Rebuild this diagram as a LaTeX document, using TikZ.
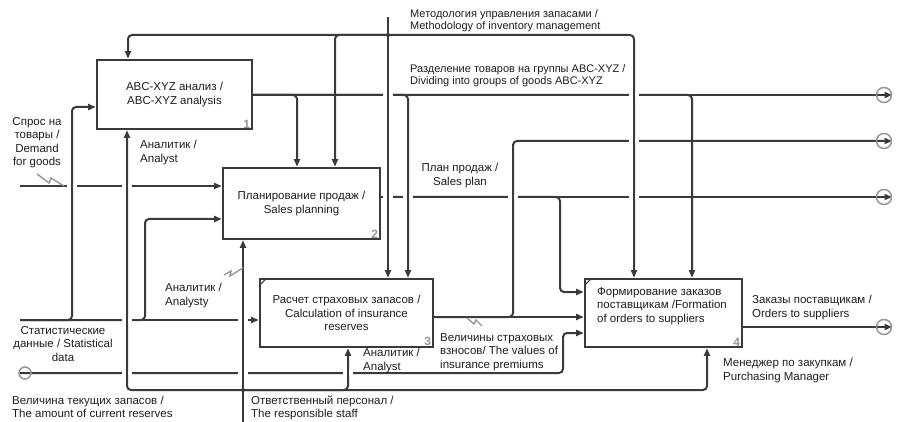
\documentclass[tikz,border=0pt]{standalone}
\usepackage{fontspec}
\setmainfont{Liberation Sans}
\usetikzlibrary{arrows.meta}

\definecolor{lc}{RGB}{58,58,58}
\definecolor{tc}{RGB}{30,30,30}
\definecolor{tun}{RGB}{150,150,150}

% white break in a horizontal line where a vertical one passes over it
\newcommand\gapat[2]{\fill[white] (#1-5,#2-1.8) rectangle (#1+5,#2+1.8);
  \draw[lc,line width=2pt] (#1,#2-3) -- (#1,#2+3);}

\begin{document}
\begin{tikzpicture}[x=1pt,y=-1pt,
    box/.style={draw=lc,line width=2.6pt,fill=white,inner sep=0pt,align=center,text=tc,
      font=\fontsize{11.5}{13.5}\selectfont},
    lbl/.style={inner sep=0pt,anchor=north west,align=left,text=tc,
      font=\fontsize{11.5}{13.5}\selectfont},
    num/.style={inner sep=0pt,anchor=south east,text=tun,font=\fontsize{12}{12}\selectfont\bfseries},
    ln/.style={draw=lc,line width=2pt,rounded corners=4pt},
    arr/.style={ln,-{Triangle[length=7.5pt,width=6pt]}},
    sq/.style={draw=tun,line width=1.4pt}]
  \useasboundingbox (0,0) rectangle (905,422);

  \coordinate (inD) at (20,186);
  \coordinate (inS) at (20,320);
  \coordinate (inR) at (19,373);
  \coordinate (ctM) at (388,17);
  \coordinate (jM) at (388,35);
  \coordinate (mS) at (243,422);
  \coordinate (jS) at (243,390);
  \coordinate (o1) at (892,95);
  \coordinate (o2) at (892,141);
  \coordinate (o3) at (892,197);
  \coordinate (o4) at (892,327);

  \node[box,minimum width=155,minimum height=69] (b1) at (174.5,94.5)
    {ABC-XYZ анализ /\\ABC-XYZ analysis};
  \node[box,minimum width=157,minimum height=71] (b2) at (301.5,203.5)
    {Планирование продаж /\\Sales planning};
  \node[box,minimum width=173,minimum height=68] (b3) at (346.5,313)
    {Расчет страховых запасов /\\Calculation of insurance\\reserves};
  \node[box,minimum width=157,minimum height=68] (b4) at (663.5,313) {};

  % inputs
  \coordinate (s1) at (72,107);
  \coordinate (s2) at (145,219);
  \coordinate (r1) at (563,333);
  \draw[arr] (inD) -- (b2.west |- inD);
  \draw[arr] (inS) -- (b3.west |- inS);
  \draw[arr] (inS) -| (s1) -- (b1.west |- s1);
  \draw[arr] (inS) -| (s2) -- (b2.west |- s2);
  \draw[arr] (inR) -| (r1) -- (b4.west |- r1);

  % controls
  \coordinate (m1) at (128,35);
  \coordinate (m2) at (335,35);
  \coordinate (m3) at (634,35);
  \draw[arr] (ctM) -- (b3.north -| ctM);
  \draw[arr] (jM) -- (m1) -- (b1.north -| m1);
  \draw[arr] (jM) -- (m2) -- (b2.north -| m2);
  \draw[arr] (jM) -- (m3) -- (b4.north -| m3);

  % outputs
  \coordinate (a1) at (297,95);
  \coordinate (a2) at (408,95);
  \coordinate (a3) at (692,95);
  \coordinate (p1) at (560,292);
  \coordinate (q1) at (513,317);
  \draw[arr] (b1.east |- o1) -- (o1);
  \draw[arr] (b1.east |- o1) -- (a1) -- (b2.north -| a1);
  \draw[arr] (b1.east |- o1) -- (a2) -- (b3.north -| a2);
  \draw[arr] (b1.east |- o1) -- (a3) -- (b4.north -| a3);
  \draw[arr] (b2.east |- o3) -- (o3);
  \draw[arr] (b2.east |- o3) -| (p1) -- (b4.west |- p1);
  \draw[arr] (b3.east |- q1) -- (b4.west |- q1);
  \draw[arr] (b3.east |- q1) -- (q1) |- (o2);
  \draw[arr] (b4.east |- o4) -- (o4);

  % mechanisms
  \coordinate (k1) at (127,390);
  \coordinate (k2) at (348,390);
  \coordinate (k3) at (707,390);
  \draw[arr] (mS) -- (b2.south -| mS);
  \draw[arr] (jS) -- (k1) -- (b1.south -| k1);
  \draw[arr] (jS) -- (k2) -- (b3.south -| k2);
  \draw[arr] (jS) -- (k3) -- (b4.south -| k3);
  \fill[lc] (jM) circle (2) (jS) circle (2);

  \gapat{72}{186} \gapat{127}{186}
  \gapat{127}{320} \gapat{243}{320}
  \gapat{127}{373} \gapat{243}{373} \gapat{348}{373}
  \gapat{388}{95} \gapat{634}{95} \gapat{634}{141}
  \gapat{388}{197} \gapat{408}{197} \gapat{513}{197} \gapat{634}{197}

  % tunnels
  \foreach \o in {o1,o2,o3,o4}
    \draw[tun,line width=1.5pt] ([xshift=-8]\o) circle (7.5);
  \draw[tun,line width=1.5pt] (25,373) circle (6);

  % squiggles
  \draw[sq] (37,174) -- (49,183) -- (51,178) -- (64,186);
  \draw[sq] (224,275) -- (231,271) -- (230,276) -- (243,268);
  \draw[sq] (467,318) -- (474,324) -- (476,320) -- (482,326);

  % box marks
  \foreach \b in {b3,b4}
    \draw[lc,line width=1pt] ([shift={(1.5,7)}]\b.north west) -- ([shift={(7,1.5)}]\b.north west);
  \node[lbl] at (597,287) {Формирование заказов\\поставщикам /Formation\\of orders to suppliers};
  \node[num] at ([shift={(-3,-2)}]b1.south east) {1};
  \node[num] at ([shift={(-3,-2)}]b2.south east) {2};
  \node[num] at ([shift={(-3,-2)}]b3.south east) {3};
  \node[num] at ([shift={(-3,-2)}]b4.south east) {4};

  % labels
  \node[lbl,font=\fontsize{11}{12}\selectfont] (tMeth) at (410,9)
    {Методология управления запасами /\\Methodology of inventory management};
  \node[lbl,font=\fontsize{11}{12}\selectfont] (tGrp) at (410,64)
    {Разделение товаров на группы ABC-XYZ /\\Dividing into groups of goods ABC-XYZ};
  \node[lbl] (tAn1) at (140,140) {Аналитик /\\Analyst};
  \node[lbl,anchor=north,align=center] (tPlan) at (460,163) {План продаж /\\Sales plan};
  \node[lbl,anchor=north,align=center] (tDem) at (37,117) {Спрос на\\товары /\\Demand\\for goods};
  \node[lbl] (tAn2) at (165,283) {Аналитик /\\Analysty};
  \node[lbl,anchor=north,align=center] (tStat) at (63,326) {Статистические\\данные / Statistical\\data};
  \node[lbl,font=\fontsize{11.5}{12.5}\selectfont] (tCur) at (12,396) {Величина текущих запасов /\\The amount of current reserves};
  \node[lbl,font=\fontsize{11.5}{12.5}\selectfont] (tStaff) at (251,396) {Ответственный персонал /\\The responsible staff};
  \node[lbl] (tAn3) at (363,348) {Аналитик /\\Analyst};
  \node[lbl] (tIns) at (440,333) {Величины страховых\\взносов/ The values of\\insurance premiums};
  \node[lbl] (tOrd) at (752,295) {Заказы поставщикам /\\Orders to suppliers};
  \node[lbl] (tMan) at (723,358) {Менеджер по закупкам /\\Purchasing Manager};
\end{tikzpicture}
\end{document}
